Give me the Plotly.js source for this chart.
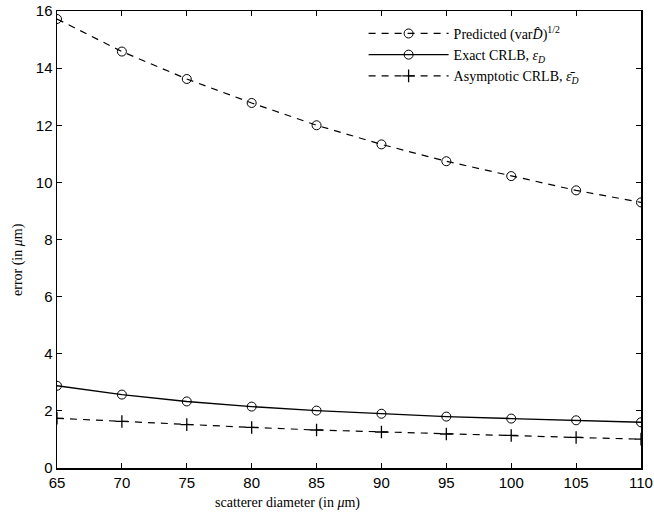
<!DOCTYPE html>
<html><head><meta charset="utf-8">
<script src="https://cdn.plot.ly/plotly-3.0.1.min.js"></script>
<style>body{margin:0;background:#fff}#c{width:654px;height:518px}</style>
</head><body><div id="c"></div>
<script>
const diameters = [65,70,75,80,85,90,95,100,105,110];
const predicted = [15.72,14.58,13.62,12.78,12.00,11.33,10.74,10.22,9.72,9.30];
const exactCRLB = [2.88,2.57,2.33,2.15,2.01,1.90,1.80,1.73,1.67,1.60];
const asymCRLB  = [1.74,1.63,1.52,1.42,1.33,1.26,1.19,1.14,1.07,1.01];
const yTicks = [0,2,4,6,8,10,12,14,16];
const xTicks = diameters;
const names = ["Predicted (var<i>D̂</i>)<sup>1/2</sup>", "Exact CRLB, <i>ε</i><sub><i>D</i></sub>", "Asymptotic CRLB, <i>ε̄</i><sub><i>D</i></sub>"];
const xTitle = 'scatterer diameter (in <i>μ</i>m)';
const yTitle = 'error (in <i>μ</i>m)';

const serif = 'Liberation Serif, Times New Roman, serif';
const circ = {symbol:'circle-open', size:9, color:'#000', line:{width:1, color:'#000'}};
const traces = [
  {x:diameters, y:predicted, name:names[0], mode:'lines+markers', line:{color:'#000', width:1.2, dash:'7px,6px'}, marker:circ},
  {x:diameters, y:exactCRLB, name:names[1], mode:'lines+markers', line:{color:'#000', width:1.4}, marker:circ},
  {x:diameters, y:asymCRLB, name:names[2], mode:'lines+markers', line:{color:'#000', width:1.2, dash:'7px,6px'}, marker:{symbol:'cross-thin-open', size:9, color:'#000', line:{width:1.3, color:'#000'}}}
];
const ax = {showgrid:false, zeroline:false, ticks:'inside', ticklen:5, tickwidth:1, tickcolor:'#000', mirror:'ticks', showline:true, linecolor:'#000', linewidth:1.5,
  tickfont:{family:'Liberation Sans, Arial, sans-serif', size:15, color:'#000'}};
const layout = {
  width:654, height:518, paper_bgcolor:'#fff', plot_bgcolor:'#fff',
  margin:{l:57, r:13, t:11, b:50},
  showlegend:true,
  legend:{x:0.525, y:0.985, xanchor:'left', yanchor:'top', bgcolor:'rgba(0,0,0,0)', borderwidth:0,
    font:{family:serif, size:14, color:'#000'}, tracegroupgap:0, itemwidth:80},
  xaxis:Object.assign({}, ax, {range:[65,110], tickvals:xTicks, ticktext:xTicks.map(String)}),
  yaxis:Object.assign({}, ax, {range:[0,16], tickvals:yTicks, ticktext:yTicks.map(String)}),
  annotations:[
    {text:xTitle, xref:'paper', yref:'paper', x:(287-57)/584, y:(518-503-50)/457, xanchor:'center', yanchor:'middle', showarrow:false, font:{family:serif, size:14, color:'#000'}},
    {text:yTitle, xref:'paper', yref:'paper', x:(18-57)/584, y:(468-260)/457, xanchor:'center', yanchor:'middle', textangle:-90, showarrow:false, font:{family:serif, size:14, color:'#000'}}
  ]
};
Plotly.newPlot('c', traces, layout, {displayModeBar:false, staticPlot:true});
</script></body></html>
